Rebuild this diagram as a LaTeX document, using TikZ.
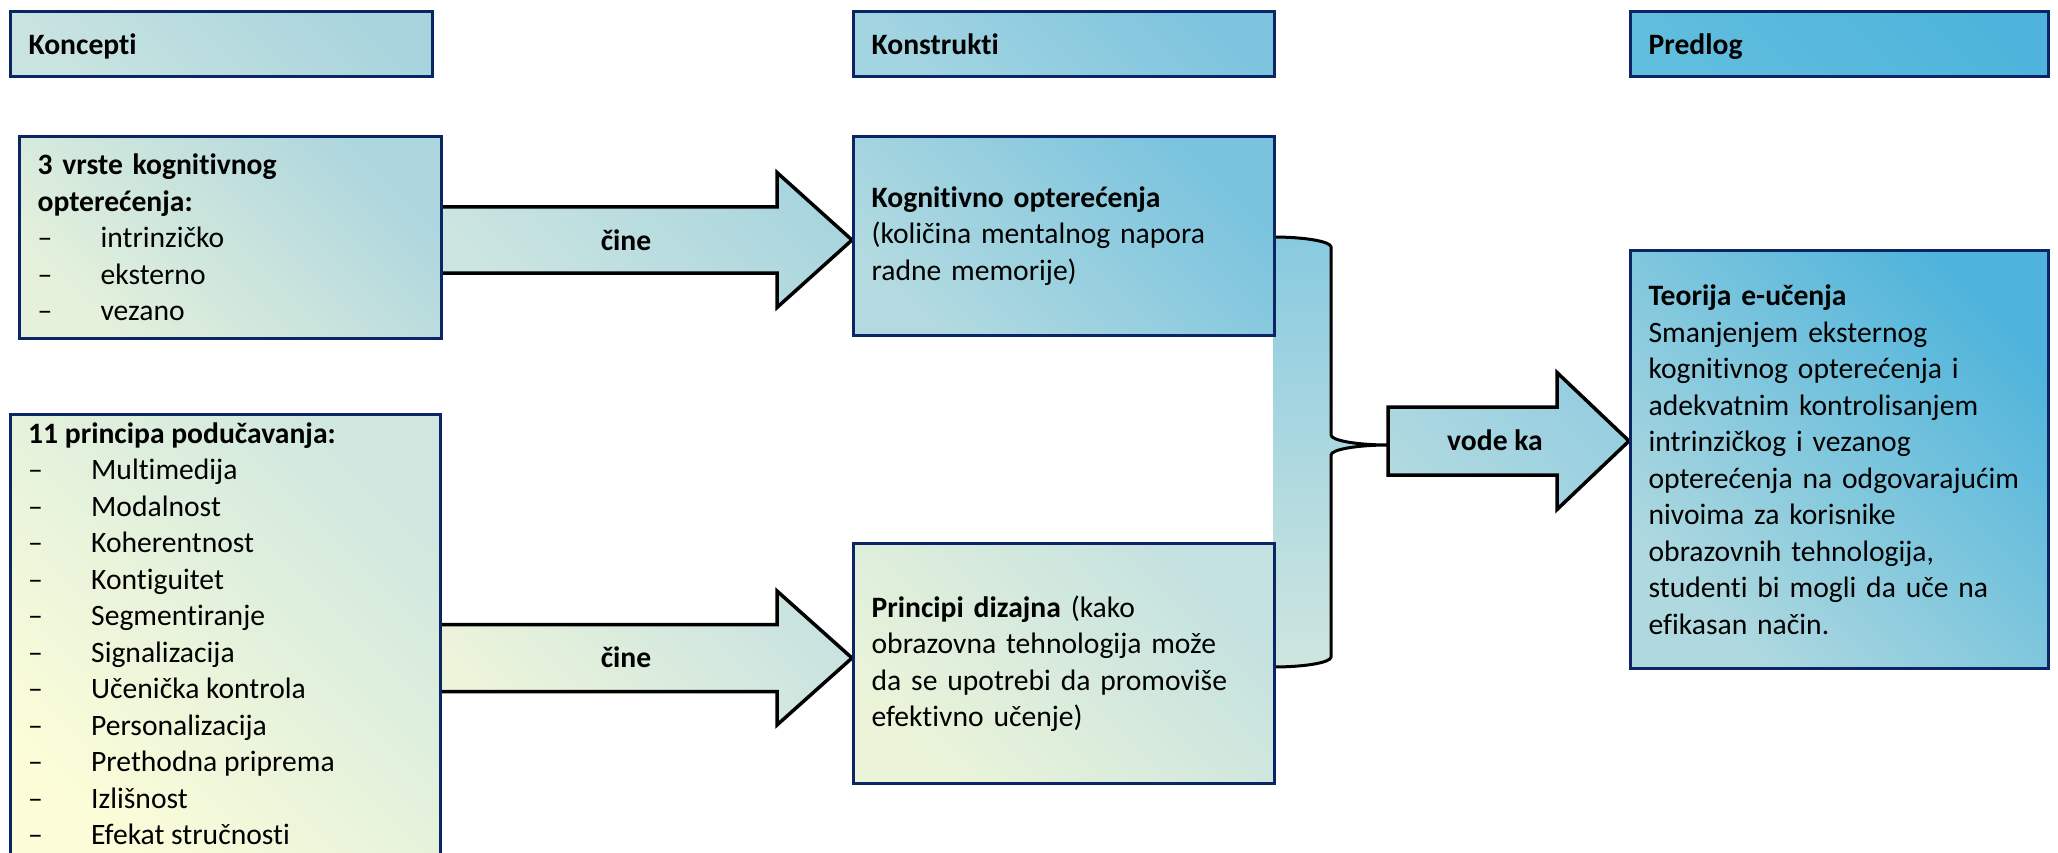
\documentclass[tikz,border=0pt]{standalone}
\usepackage{fontspec}
\setmainfont[Ligatures=NoCommon]{Carlito}
\usetikzlibrary{calc}
\newcommand\bodyfont{\fontsize{29.6}{36.5}\selectfont}
\newcommand\bitem[1]{\makebox[63pt][l]{–}#1}
\newcommand\BArrow[7]{% x0, xh, x1, yc, half shaft, half head, style
  \path[#7] (#1,#4-#5) -- (#2,#4-#5) -- (#2,#4-#6) -- (#3,#4) -- (#2,#4+#6) -- (#2,#4+#5) -- (#1,#4+#5) -- cycle;}
\definecolor{navy}{HTML}{0B2566}
\definecolor{hAt}{HTML}{A8D4DD}\definecolor{hAb}{HTML}{C8E3E0}
\definecolor{hBt}{HTML}{7CC4DE}\definecolor{hBb}{HTML}{A3D4E1}
\definecolor{hCt}{HTML}{4EB4DB}\definecolor{hCb}{HTML}{60BDDE}
\definecolor{bAt}{HTML}{ADD6DE}\definecolor{bAb}{HTML}{E5F1DB}
\definecolor{bBt}{HTML}{D0E8DF}\definecolor{bBb}{HTML}{FCFDD8}
\definecolor{kAt}{HTML}{79C3DE}\definecolor{kAb}{HTML}{B2DAE0}
\definecolor{kBt}{HTML}{C3E1E0}\definecolor{kBb}{HTML}{EBF4D9}
\definecolor{tt}{HTML}{4FB4DB}\definecolor{tb}{HTML}{B0D9DF}
\definecolor{a1t}{HTML}{A9D5DF}\definecolor{a1b}{HTML}{CCE5E0}
\definecolor{a2t}{HTML}{C9E3E0}\definecolor{a2b}{HTML}{ECF4DA}
\definecolor{a3t}{HTML}{95CEE0}\definecolor{a3b}{HTML}{B0D9E0}
\definecolor{brt}{HTML}{88CAE0}\definecolor{brb}{HTML}{CFE6DF}
\begin{document}
\begin{tikzpicture}[x=1pt,y=-1pt,
  dshade/.style 2 args={top color=#1, bottom color=#2, shading angle=-45},
  box/.style={draw=navy, line width=3.2pt, anchor=north west, align=left,
    inner xsep=18pt, inner ysep=0pt, font=\bodyfont},
  hdr/.style={box, minimum height=65pt, text height=43pt, text depth=22pt},
  barrow/.style={draw=black, line width=3.5pt, line join=miter},
  lbl/.style={font=\bodyfont\bfseries, inner sep=0pt, anchor=base}]
\useasboundingbox (0,0) rectangle (2058,853);
\clip (0,0) rectangle (2058,853);
% brace
\fill[top color=brt, bottom color=brb] (1273,237) .. controls (1305,237) and (1331,241.5) .. (1331,247)
  -- (1331,435) .. controls (1331,440.5) and (1357,445) .. (1388,445)
  .. controls (1357,445) and (1331,449.5) .. (1331,455)
  -- (1331,657) .. controls (1331,662.5) and (1305,667) .. (1273,667) -- cycle;
\draw[line width=3pt] (1273,237) .. controls (1305,237) and (1331,241.5) .. (1331,247)
  -- (1331,435) .. controls (1331,440.5) and (1357,445) .. (1388,445)
  .. controls (1357,445) and (1331,449.5) .. (1331,455)
  -- (1331,657) .. controls (1331,662.5) and (1305,667) .. (1273,667);
% block arrows
\BArrow{440}{777}{852}{240}{33}{67.5}{barrow, dshade={a1t}{a1b}}
\BArrow{439}{777}{852}{658}{33.5}{67}{barrow, dshade={a2t}{a2b}}
\BArrow{1388}{1557}{1629}{441}{34}{68.5}{barrow, dshade={a3t}{a3b}}
% headers
\node[hdr, dshade={hAt}{hAb}, minimum width=422pt, text width=386pt] (h1) at (9,10) {\textbf{Koncepti}};
\node[hdr, dshade={hBt}{hBb}, minimum width=421pt, text width=385pt] (h2) at (852,10) {\textbf{Konstrukti}};
\node[hdr, dshade={hCt}{hCb}, minimum width=418pt, text width=382pt] (h3) at (1629,10) {\textbf{Predlog}};
% concept boxes
\node[box, dshade={bAt}{bAb}, minimum width=422pt, text width=386pt, minimum height=202pt] (b1) at (18,135)
  {\textbf{3 vrste kognitivnog}\\\textbf{opterećenja:}\\\bitem{intrinzičko}\\\bitem{eksterno}\\\bitem{vezano}};
\node[box, dshade={bBt}{bBb}, minimum width=430pt, minimum height=460pt] (b2) at (9,413) {};
\node[font=\bodyfont, align=left, inner sep=0pt, anchor=west] (b2t) at (28,633.5)
  {\textbf{11 principa podučavanja:}\\\bitem{Multimedija}\\\bitem{Modalnost}\\\bitem{Koherentnost}\\\bitem{Kontiguitet}\\\bitem{Segmentiranje}\\\bitem{Signalizacija}\\\bitem{Učenička kontrola}\\\bitem{Personalizacija}\\\bitem{Prethodna priprema}\\\bitem{Izlišnost}\\\bitem{Efekat stručnosti}};
% construct boxes
\node[box, dshade={kAt}{kAb}, minimum width=421pt, text width=385pt, minimum height=199pt] (k1) at (852,135)
  {\textbf{Kognitivno opterećenja}\\(količina mentalnog napora\\radne memorije)};
\node[box, dshade={kBt}{kBb}, minimum width=421pt, text width=385pt, minimum height=240pt] (k2) at (852,542)
  {\textbf{Principi dizajna} (kako\\obrazovna tehnologija može\\da se upotrebi da promoviše\\efektivno učenje)};
% proposal box
\node[box, dshade={tt}{tb}, minimum width=418pt, text width=382pt, minimum height=418pt] (t) at (1629,249)
  {\textbf{Teorija e-učenja}\\Smanjenjem eksternog\\kognitivnog opterećenja i\\adekvatnim kontrolisanjem\\intrinzičkog i vezanog\\opterećenja na odgovarajućim\\nivoima za korisnike\\obrazovnih tehnologija,\\studenti bi mogli da uče na\\efikasan način.};
% arrow labels
\node[lbl] (c1) at (626,250) {čine};
\node[lbl] (c2) at (626,667) {čine};
\node[lbl] (vk) at (1495,450) {vode ka};
\end{tikzpicture}
\end{document}
